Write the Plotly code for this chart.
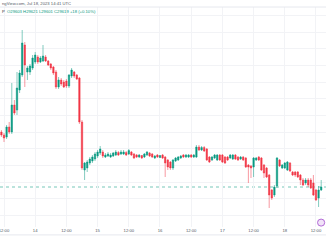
import plotly.graph_objects as go
import pandas as pd

# hourly candles starting 2023-07-13 11:00 UTC
start = "2023-07-13 11:00"
opens = [30300,30264,30240,30360,30300,30624,30564,30804,30984,31344,
         31020,31020,31068,31140,31200,31140,31152,31200,31152,31116,
         31080,31020,30840,30924,30900,30912,30852,30972,31020,30984,
         30948,30420,29844,29868,29928,29952,29976,30012,30048,30060,
         30000,30012,30000,30012,30024,30054,30036,30036,30054,30036,
         30060,30036,30024,30000,30018,30000,30024,30048,30036,29988,
         30024,29994,30024,30000,29964,29940,29868,29952,29964,29988,
         30024,30000,30000,30024,30000,30000,30120,30084,30114,30096,
         30000,29964,29988,29964,30024,30024,30000,30000,29988,29976,
         30024,30000,29976,30000,29988,29904,29892,29880,29964,30000,
         29988,29904,29868,29784,29604,29544,29652,29964,29868,29868,
         29844,29928,29820,29820,29820,29784,29724,29688,29724,29724,
         29688,29604,29508,29604]
highs = [30324,30288,30384,30420,30888,30684,31020,31044,31524,31380,
         31092,31116,31224,31260,31224,31212,31344,31224,31164,31128,
         31092,31044,30960,30948,30924,30936,30996,31068,31032,30996,
         30960,30444,29940,29964,30000,30024,30060,30084,30132,30084,
         30048,30060,30048,30060,30084,30072,30084,30084,30072,30096,
         30072,30048,30036,30036,30024,30048,30072,30060,30048,30024,
         30036,30024,30036,30012,29976,29952,29976,30000,30012,30024,
         30036,30036,30036,30036,30036,30144,30144,30132,30132,30108,
         30012,30012,30036,30036,30036,30036,30012,30012,30036,30036,
         30036,30012,30012,30012,30000,29916,29904,30000,30000,30012,
         30000,29916,29880,29796,29616,29664,30000,29976,29916,29940,
         29952,29940,29832,29832,29832,29796,29748,29748,29748,29748,
         29784,29616,29652,29724]
lows = [30240,30180,30216,30276,30276,30504,30504,30768,30960,30840,
        30924,30984,31044,31116,31116,31128,31140,31140,31092,31044,
        30984,30816,30816,30852,30828,30828,30828,30948,30948,30924,
        30396,29844,29724,29820,29904,29928,29952,29988,30024,29988,
        29988,30000,29988,30000,30012,30012,30024,30024,30012,30024,
        30012,29976,29988,29988,29976,29988,30012,30000,29988,29976,
        29988,29988,29976,29760,29844,29844,29844,29940,29952,29976,
        29988,29988,29988,29988,29988,29988,30072,30072,30060,29952,
        29928,29952,29976,29952,29952,29928,29916,29952,29976,29964,
        29964,29952,29964,29952,29868,29688,29748,29760,29952,29952,
        29832,29748,29748,29388,29484,29520,29628,29880,29856,29856,
        29832,29820,29772,29760,29748,29664,29652,29664,29640,29616,
        29532,29472,29400,29592]
closes = [30264,30228,30360,30300,30624,30528,30828,31008,31368,31104,
          31068,31092,31188,31224,31140,31188,31212,31152,31104,31068,
          31008,30840,30924,30876,30840,30852,30984,31044,30972,30936,
          30420,29868,29928,29940,29976,30000,30036,30060,30096,30012,
          30024,30036,30024,30048,30060,30024,30060,30060,30024,30078,
          30024,29988,30000,30024,29988,30036,30060,30012,30000,30012,
          30000,30018,29988,29928,29880,29868,29964,29988,30000,30012,
          30000,30024,30024,30000,30024,30120,30084,30114,30072,29964,
          29940,30000,30024,30024,29964,29940,29928,29964,30024,30024,
          29976,29964,30000,29964,29880,29880,29868,29988,29988,29964,
          29844,29808,29760,29544,29508,29640,29988,29892,29904,29928,
          29940,29832,29784,29784,29760,29724,29664,29724,29664,29628,
          29544,29484,29604,29640]

tick_times = ["2023-07-13 12:00","2023-07-14 00:00","2023-07-14 12:00","2023-07-15 00:00",
              "2023-07-15 12:00","2023-07-16 00:00","2023-07-16 12:00","2023-07-17 00:00",
              "2023-07-17 12:00","2023-07-18 00:00","2023-07-18 12:00"]
tick_labels = ["12:00","14","12:00","15","12:00","16","12:00","17","12:00","18","12:00"]

header_text = "ngView.com, Jul 18, 2023 14:41 UTC"
symbol_text = "P"
ohlc_text = "O29603 H29621 L29601 C29619 +18 (+0.10%)"

UP = "#089981"
DOWN = "#F23645"

times = pd.date_range(start, periods=len(opens), freq="h")

fig = go.Figure(go.Candlestick(
    x=times, open=opens, high=highs, low=lows, close=closes,
    increasing=dict(line=dict(color="rgba(8,153,129,0.5)", width=1), fillcolor=UP),
    decreasing=dict(line=dict(color="rgba(242,54,69,0.5)", width=1), fillcolor=DOWN),
    whiskerwidth=0, showlegend=False, hoverinfo="skip",
))

last_close = closes[-1]
fig.add_shape(type="line", xref="paper", x0=0, x1=1, yref="y", y0=last_close, y1=last_close,
              line=dict(color="rgba(8,153,129,0.55)", width=1, dash="dot"), layer="below")
# pane separators
fig.add_shape(type="line", xref="paper", x0=0, x1=1, yref="paper", y0=1, y1=1,
              line=dict(color="#e6e8ee", width=1))
fig.add_shape(type="line", xref="paper", x0=0, x1=1, yref="paper", y0=-0.036, y1=-0.036,
              line=dict(color="#e6e8ee", width=1))
# small purple icon bottom-right
fig.add_shape(type="circle", xref="paper", yref="paper", x0=0.974, x1=0.996, y0=0.004, y1=0.036,
              line=dict(color="#b26ad6", width=1), fillcolor="#f1e3f8")

fig.add_annotation(text=header_text, xref="paper", yref="paper", x=0, y=1.0, yshift=3.5,
                   xanchor="left", yanchor="middle", showarrow=False,
                   font=dict(family="Liberation Sans, Arial", size=4.2, color="#555a66"))
fig.add_annotation(text=f"<span style='color:#333'>{symbol_text}</span>  {ohlc_text}",
                   xref="paper", yref="paper", x=0, y=1.0, yshift=-4,
                   xanchor="left", yanchor="middle", showarrow=False,
                   font=dict(family="Liberation Sans, Arial", size=4.2, color=UP))

fig.update_layout(
    width=326, height=245,
    margin=dict(l=0, r=0, t=7, b=18),
    paper_bgcolor="white", plot_bgcolor="white",
    boxgap=0.45, boxgroupgap=0,
    xaxis=dict(
        type="date",
        range=["2023-07-13 10:27:42", "2023-07-18 15:51:00"],
        rangeslider=dict(visible=False),
        tickvals=tick_times, ticktext=tick_labels,
        ticklabeloverflow="allow",
        showgrid=True, gridcolor="#f2f3f6", gridwidth=1,
        zeroline=False, showline=False, ticks="",
        tickfont=dict(family="Liberation Sans, Arial", size=4.2, color="#555a66"),
    ),
    yaxis=dict(
        range=[29160, 31800], tick0=29100, dtick=200,
        showgrid=True, gridcolor="#f2f3f6", gridwidth=1,
        showticklabels=False, zeroline=False, showline=False, ticks="",
    ),
)

fig.write_html("out.html")
